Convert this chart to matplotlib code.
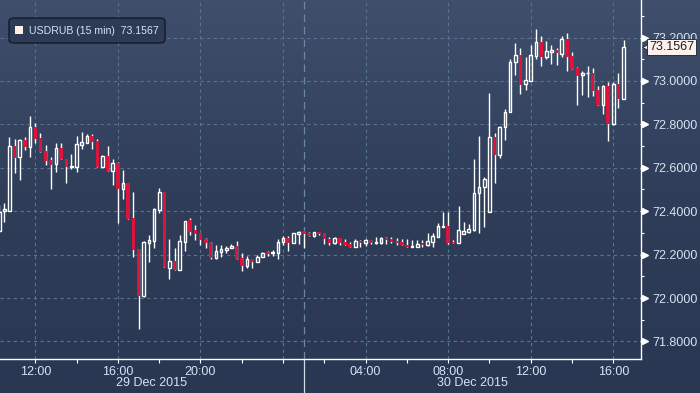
import numpy as np
import pandas as pd
import matplotlib
matplotlib.use('Agg')
import matplotlib.pyplot as plt
from matplotlib import patches, transforms
from matplotlib.colors import LinearSegmentedColormap
from matplotlib.ticker import FormatStrFormatter, FixedLocator

plt.rcParams['font.family'] = ['Liberation Sans', 'DejaVu Sans']

# 15 min candles, 29 Dec 2015 10:15 -> 30 Dec 2015 16:30
times = pd.date_range('2015-12-29 10:15', periods=122, freq='15min')

opens = [72.309, 72.400, 72.402, 72.700, 72.651, 72.728, 72.697, 72.787, 72.737, 72.676,
         72.636, 72.616, 72.690, 72.639, 72.602, 72.605, 72.706, 72.716, 72.747, 72.722,
         72.605, 72.654, 72.587, 72.621, 72.501, 72.529, 72.367, 72.224, 72.009, 72.255,
         72.264, 72.406, 72.490, 72.140, 72.171, 72.129, 72.259, 72.359, 72.313, 72.298,
         72.272, 72.252, 72.186, 72.213, 72.223, 72.229, 72.240, 72.183, 72.147, 72.178,
         72.167, 72.190, 72.211, 72.206, 72.206, 72.259, 72.275, 72.255, 72.296, 72.307,
         72.298, 72.287, 72.303, 72.298, 72.271, 72.255, 72.275, 72.259, 72.249, 72.234,
         72.263, 72.252, 72.267, 72.255, 72.255, 72.278, 72.272, 72.263, 72.259, 72.244,
         72.236, 72.236, 72.252, 72.244, 72.259, 72.282, 72.329, 72.332, 72.259, 72.255,
         72.296, 72.306, 72.313, 72.482, 72.510, 72.396, 72.741, 72.659, 72.789, 72.859,
         73.089, 73.120, 72.985, 73.001, 73.115, 73.181, 73.109, 73.135, 73.143, 73.124,
         73.192, 73.115, 73.059, 73.026, 73.035, 73.037, 72.959, 72.889, 72.977, 72.802,
         72.986, 72.917]
highs = [72.429, 72.436, 72.741, 72.731, 72.731, 72.741, 72.839, 72.805, 72.762, 72.705,
         72.651, 72.713, 72.713, 72.639, 72.664, 72.747, 72.765, 72.756, 72.756, 72.731,
         72.659, 72.700, 72.639, 72.628, 72.590, 72.529, 72.490, 72.224, 72.264, 72.290,
         72.413, 72.506, 72.490, 72.271, 72.229, 72.290, 72.355, 72.370, 72.336, 72.298,
         72.275, 72.259, 72.244, 72.244, 72.240, 72.249, 72.263, 72.206, 72.194, 72.178,
         72.197, 72.211, 72.217, 72.221, 72.271, 72.286, 72.286, 72.301, 72.310, 72.307,
         72.304, 72.303, 72.303, 72.301, 72.280, 72.280, 72.275, 72.271, 72.259, 72.271,
         72.267, 72.271, 72.267, 72.280, 72.282, 72.282, 72.280, 72.275, 72.272, 72.272,
         72.267, 72.267, 72.267, 72.301, 72.301, 72.344, 72.396, 72.396, 72.267, 72.424,
         72.349, 72.341, 72.641, 72.747, 72.556, 72.943, 72.759, 72.794, 72.870, 73.101,
         73.177, 73.151, 73.112, 73.166, 73.238, 73.207, 73.183, 73.166, 73.151, 73.209,
         73.223, 73.135, 73.066, 73.047, 73.069, 73.059, 72.977, 72.982, 72.997, 72.995,
         73.035, 73.189]
lows = [72.304, 72.352, 72.400, 72.577, 72.544, 72.682, 72.651, 72.716, 72.673, 72.613,
        72.504, 72.582, 72.639, 72.531, 72.596, 72.582, 72.688, 72.716, 72.688, 72.605,
        72.605, 72.587, 72.521, 72.347, 72.455, 72.364, 72.190, 71.857, 72.003, 72.167,
        72.229, 72.393, 72.144, 72.089, 72.129, 72.129, 72.218, 72.290, 72.267, 72.244,
        72.229, 72.180, 72.180, 72.190, 72.206, 72.229, 72.181, 72.126, 72.137, 72.137,
        72.167, 72.188, 72.195, 72.195, 72.180, 72.244, 72.218, 72.255, 72.249, 72.229,
        72.287, 72.282, 72.290, 72.247, 72.244, 72.247, 72.244, 72.244, 72.234, 72.234,
        72.236, 72.241, 72.247, 72.249, 72.249, 72.247, 72.253, 72.244, 72.243, 72.236,
        72.236, 72.236, 72.236, 72.241, 72.234, 72.282, 72.329, 72.249, 72.252, 72.255,
        72.296, 72.301, 72.310, 72.298, 72.329, 72.396, 72.531, 72.644, 72.728, 72.859,
        73.028, 72.940, 72.959, 73.001, 73.100, 73.069, 73.101, 73.078, 73.074, 73.112,
        73.047, 73.055, 72.889, 72.935, 72.928, 72.931, 72.889, 72.848, 72.725, 72.797,
        72.874, 72.917]
closes = [72.396, 72.409, 72.700, 72.647, 72.728, 72.696, 72.787, 72.733, 72.674, 72.633,
          72.613, 72.690, 72.639, 72.605, 72.608, 72.710, 72.719, 72.747, 72.719, 72.605,
          72.654, 72.587, 72.621, 72.501, 72.529, 72.364, 72.221, 72.009, 72.259, 72.267,
          72.409, 72.490, 72.144, 72.171, 72.129, 72.263, 72.355, 72.306, 72.295, 72.267,
          72.252, 72.183, 72.217, 72.226, 72.230, 72.240, 72.181, 72.149, 72.178, 72.167,
          72.190, 72.206, 72.203, 72.211, 72.259, 72.275, 72.255, 72.298, 72.304, 72.296,
          72.287, 72.303, 72.295, 72.271, 72.255, 72.275, 72.255, 72.244, 72.234, 72.263,
          72.252, 72.267, 72.252, 72.258, 72.275, 72.267, 72.258, 72.252, 72.243, 72.236,
          72.240, 72.249, 72.244, 72.263, 72.286, 72.332, 72.332, 72.252, 72.252, 72.313,
          72.307, 72.318, 72.482, 72.510, 72.548, 72.743, 72.659, 72.789, 72.859, 73.089,
          73.120, 72.982, 73.005, 73.120, 73.181, 73.109, 73.137, 73.143, 73.128, 73.192,
          73.112, 73.055, 73.023, 73.037, 73.037, 72.955, 72.889, 72.977, 72.802, 72.986,
          72.917, 73.1567]

last_price = 73.1567
x_tick_hours = [12, 14, 16, 18, 20, 22, 24, 26, 28, 30, 32, 34, 36, 38, 40]
x_tick_labels = ['12:00', '', '16:00', '', '20:00', '', '', '', '04:00', '', '08:00', '', '12:00', '', '16:00']
day_labels = ['29 Dec 2015', '30 Dec 2015']
day_split = 25  # hours after 29 Dec 00:00

TXT = '#d6e3f3'
GRID = '#557591'
RED = '#dc143c'

o = np.array(opens); h = np.array(highs); l = np.array(lows); c = np.array(closes)
x = ((times - pd.Timestamp('2015-12-29')) / pd.Timedelta(hours=1)).values
up = c >= o

fig = plt.figure(figsize=(7, 3.93), dpi=100)

# background gradient
bg = fig.add_axes([0, 0, 1, 1], zorder=-10)
cmap = LinearSegmentedColormap.from_list('bg', ['#2a3752', '#2f3d59', '#3f4f6c'])
bg.imshow(np.linspace(0, 1, 256).reshape(-1, 1), aspect='auto', cmap=cmap,
          extent=[0, 1, 0, 1], origin='lower')
bg.axis('off')

ax = fig.add_axes([0, 34 / 393, 641 / 700, 359 / 393])
ax.patch.set_alpha(0)
xmin, xmax = 10.29, 41.34
ax.set_xlim(xmin, xmax)
ax.set_ylim(71.719, 73.373)

# wicks
ax.vlines(x[~up], l[~up], h[~up], color='white', lw=1, zorder=3)
ax.vlines(x[up], l[up], o[up], color='white', lw=1, zorder=3)
ax.vlines(x[up], c[up], h[up], color='white', lw=1, zorder=3)
# bodies
ax.bar(x[~up], o[~up] - c[~up], bottom=c[~up], width=0.165, color=RED, lw=0, zorder=4)
ax.bar(x[up], np.maximum(c[up] - o[up], 0.0015), bottom=o[up], width=0.13,
       facecolor='none', edgecolor='white', lw=1, zorder=4)

# grid
ax.set_yticks(np.arange(71.8, 73.21, 0.2))
ax.yaxis.set_minor_locator(FixedLocator(np.arange(71.9, 73.31, 0.2)))
ax.yaxis.set_major_formatter(FormatStrFormatter('%.4f'))
ax.yaxis.tick_right()
ax.set_xticks(x_tick_hours)
ax.set_xticklabels(x_tick_labels)
ax.grid(True, axis='y', color=GRID, ls=(0, (3, 3)), lw=0.8)
for gx in range(12, 41, 4):
    ax.axvline(gx, color=GRID, ls=(0, (3, 3)), lw=0.8, zorder=1)
ax.axvline(day_split, color='#6a88a3', ls=(0, (6, 4)), lw=0.9, zorder=1)
ax.axvline(day_split, ymin=-34 / 359, ymax=0, color='#cfd8e4', lw=0.9, clip_on=False)

for s in ['top', 'left']:
    ax.spines[s].set_visible(False)
for s in ['right', 'bottom']:
    ax.spines[s].set_color('white')
    ax.spines[s].set_linewidth(1)

ax.tick_params(axis='y', which='major', length=0, pad=8, colors=TXT, labelsize=9)
ax.tick_params(axis='y', which='minor', length=2.5, width=0.8, color='white')
ax.tick_params(axis='x', length=3, width=0.8, color='white', colors=TXT, labelsize=9, pad=2)
for t in ax.get_yticklabels() + ax.get_xticklabels():
    t.set_color(TXT)

# arrow markers on major y ticks
tr = transforms.blended_transform_factory(ax.transAxes, ax.transData)
off = transforms.ScaledTranslation(4 / 100, 0, fig.dpi_scale_trans)
ax.plot([1] * 8, np.arange(71.8, 73.21, 0.2), ls='none', marker='>', ms=4.5,
        color='white', transform=tr + off, clip_on=False, zorder=5)
ax.plot([1] * 8, np.arange(71.8, 73.21, 0.2), ls='none', marker='_', ms=5,
        color='white', mew=1, transform=tr + transforms.ScaledTranslation(1.5 / 100, 0, fig.dpi_scale_trans),
        clip_on=False, zorder=5)

# day labels
trd = transforms.blended_transform_factory(ax.transData, ax.transAxes)
ax.text((xmin + day_split) / 2, -24 / 359, day_labels[0], transform=trd, ha='center',
        va='center', color=TXT, fontsize=9)
ax.text((day_split + xmax) / 2, -24 / 359, day_labels[1], transform=trd, ha='center',
        va='center', color=TXT, fontsize=9)

# last price tag
ax.text(1, last_price, '73.1567', transform=tr + transforms.ScaledTranslation(8 / 100, 0, fig.dpi_scale_trans),
        ha='left', va='center', fontsize=9, color='#1a2030', zorder=7, clip_on=False,
        bbox=dict(boxstyle='square,pad=0.15', fc='#fdf1ea', ec='#1a2030', lw=0.6))
ax.plot([1], [last_price], ls='none', marker='<', ms=9, color='#fdf1ea', mec='#1a2030', mew=0.6,
        transform=tr + transforms.ScaledTranslation(7 / 100, 0, fig.dpi_scale_trans),
        clip_on=False, zorder=6)

# legend box
fig.patches.append(patches.FancyBboxPatch((9 / 700, (393 - 43) / 393), 156 / 700, 25 / 393,
                                          boxstyle='round,pad=0,rounding_size=0.008',
                                          transform=fig.transFigure, fc='#2e3b57', ec='#141b29',
                                          lw=1, zorder=8))
fig.patches.append(patches.Rectangle((15 / 700, (393 - 34) / 393), 8 / 700, 8 / 393,
                                     transform=fig.transFigure, fc='#fdf1ea', ec='none', zorder=9))
fig.text(29 / 700, (393 - 30.5) / 393, 'USDRUB (15 min)  73.1567', color=TXT, fontsize=7.6,
         va='center', ha='left', zorder=10)

fig.savefig('out.png', dpi=100)
